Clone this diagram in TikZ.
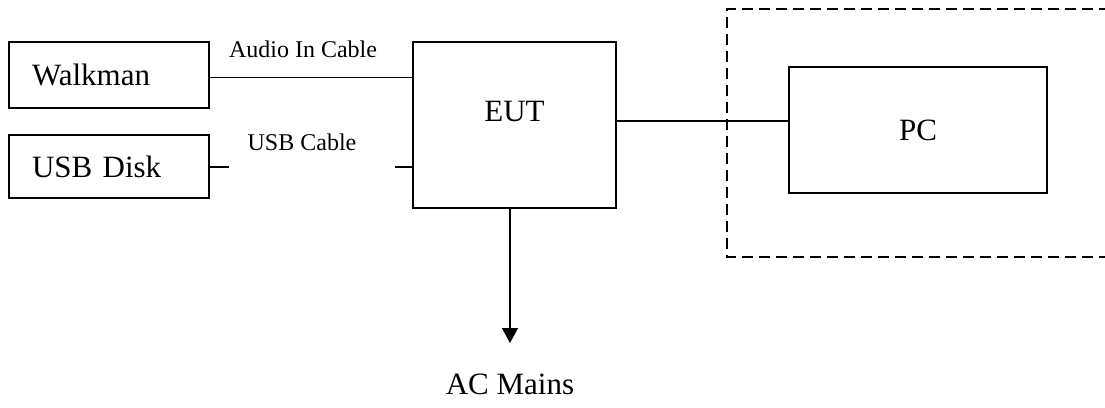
\documentclass[tikz,border=0pt]{standalone}
\usepackage{fontspec}
\setmainfont{Liberation Serif}
\usetikzlibrary{arrows.meta,calc}
\begin{document}
\begin{tikzpicture}[x=1pt,y=-1pt,
  box/.style={draw,line width=1.3pt,rectangle,inner sep=0pt,font=\fontsize{31}{36}\selectfont},
  lbox/.style={box,text width=154pt,align=left,inner xsep=23pt},
  cable/.style={line width=1.3pt},
  thincable/.style={line width=0.6pt},
  cablelabel/.style={font=\fontsize{24}{28}\selectfont,inner sep=0pt},
  biglabel/.style={font=\fontsize{31}{36}\selectfont,inner sep=0pt},
  frame/.style={line width=1.3pt,dash pattern=on 11pt off 6pt}]
\useasboundingbox (0,0) rectangle (1105,407);
\node[lbox,minimum width=200pt,minimum height=66pt] (walk) at (109,75) {Walkman};
\node[lbox,minimum width=200pt,minimum height=63pt] (usb) at (109,166.5) {USB Disk};
\node[box,minimum width=203pt,minimum height=166pt,text depth=0pt] (eut) at (514.5,125) {\raisebox{28pt}{EUT}};
\node[box,minimum width=258pt,minimum height=126pt] (pc) at (918,130) {PC};
% dashed frame (right side beyond picture)
\draw[frame] (1110,9) -- (727,9) -- (727,257) -- (1110,257);
% cables
\coordinate (aud) at (300,77);
\draw[thincable] (walk.east |- aud) -- (eut.west |- aud);
\node[cablelabel] (audlbl) at (303,49) {Audio In Cable};
\coordinate (ustub) at (229,167);
\coordinate (estub) at (395,167);
\draw[cable] (usb.east |- ustub) -- (ustub);
\draw[cable] (eut.west |- estub) -- (estub);
\node[cablelabel] (usblbl) at (302,142) {USB Cable};
\coordinate (pcl) at (700,121);
\draw[cable] (eut.east |- pcl) -- (pc.west |- pcl);
\coordinate (ac) at (510,343);
\draw[cable,-{Triangle[width=16pt,length=15pt]}] (eut.south -| ac) -- (ac);
\node[biglabel] (mains) at (510,384) {AC Mains};
\end{tikzpicture}
\end{document}
